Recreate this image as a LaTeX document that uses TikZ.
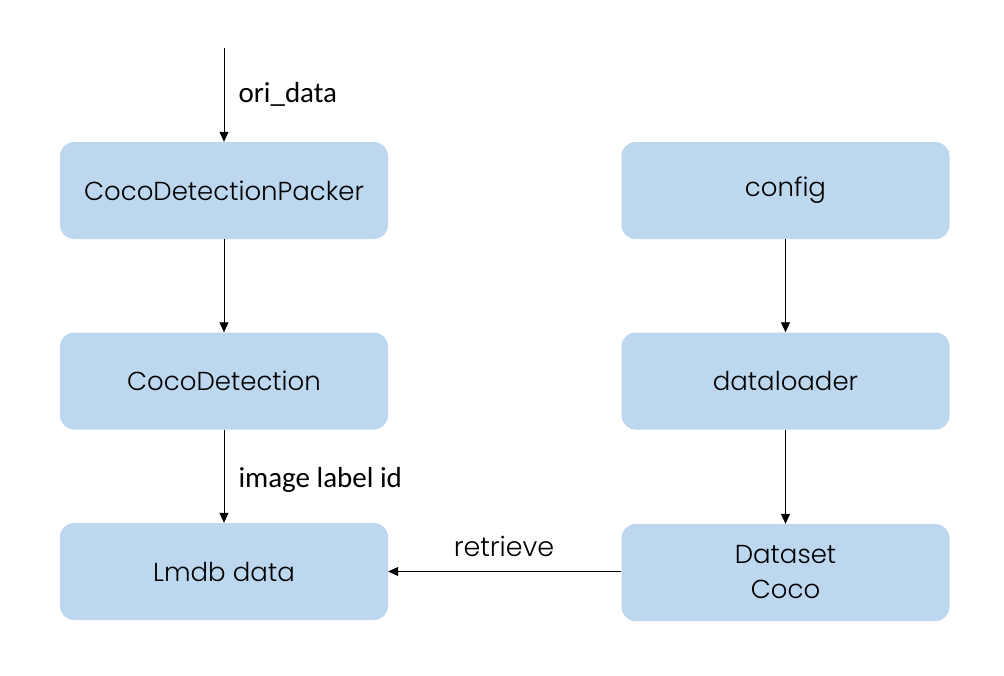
\documentclass[tikz,border=0pt]{standalone}
\usepackage{fontspec}
\setmainfont{Poppins}[UprightFont={* Light}]
\newfontfamily\lblfont{Carlito}
\usetikzlibrary{arrows.meta}
\definecolor{boxblue}{HTML}{BDD7EE}
\begin{document}
\begin{tikzpicture}[x=1pt,y=-1pt,
  blk/.style={fill=boxblue,draw=none,rounded corners=14pt,minimum width=328pt,minimum height=97pt,inner sep=0pt,font=\fontsize{26}{35}\selectfont,align=center},
  conn/.style={-{Triangle[length=10pt,width=9pt]},line width=0.8pt},
  lbl/.style={font=\lblfont\fontsize{29}{32}\selectfont,anchor=west}]
\useasboundingbox (0,0) rectangle (1004,675);
\node[blk] (packer) at (224,190.5) {CocoDetectionPacker};
\node[blk] (coco) at (224,381) {CocoDetection};
\node[blk] (lmdb) at (224,571.5) {Lmdb data};
\node[blk] (config) at (785.5,190.5) {config};
\node[blk] (loader) at (785.5,381) {dataloader};
\node[blk] (dataset) at (785.5,572.5) {Dataset\\Coco};
\coordinate (start) at (224,48);
\draw[conn] (start) -- (packer.north);
\draw[conn] (packer) -- (coco);
\draw[conn] (coco) -- (lmdb);
\draw[conn] (config) -- (loader);
\draw[conn] (loader) -- (dataset);
\draw[conn] (dataset.west |- lmdb) -- (lmdb);
\node[lbl] (l1) at (235,94) {ori\_data};
\node[lbl] (l2) at (235,480) {image label id};
\node[font=\fontsize{27}{32}\selectfont] (l3) at (504,546) {retrieve};
\end{tikzpicture}
\end{document}
